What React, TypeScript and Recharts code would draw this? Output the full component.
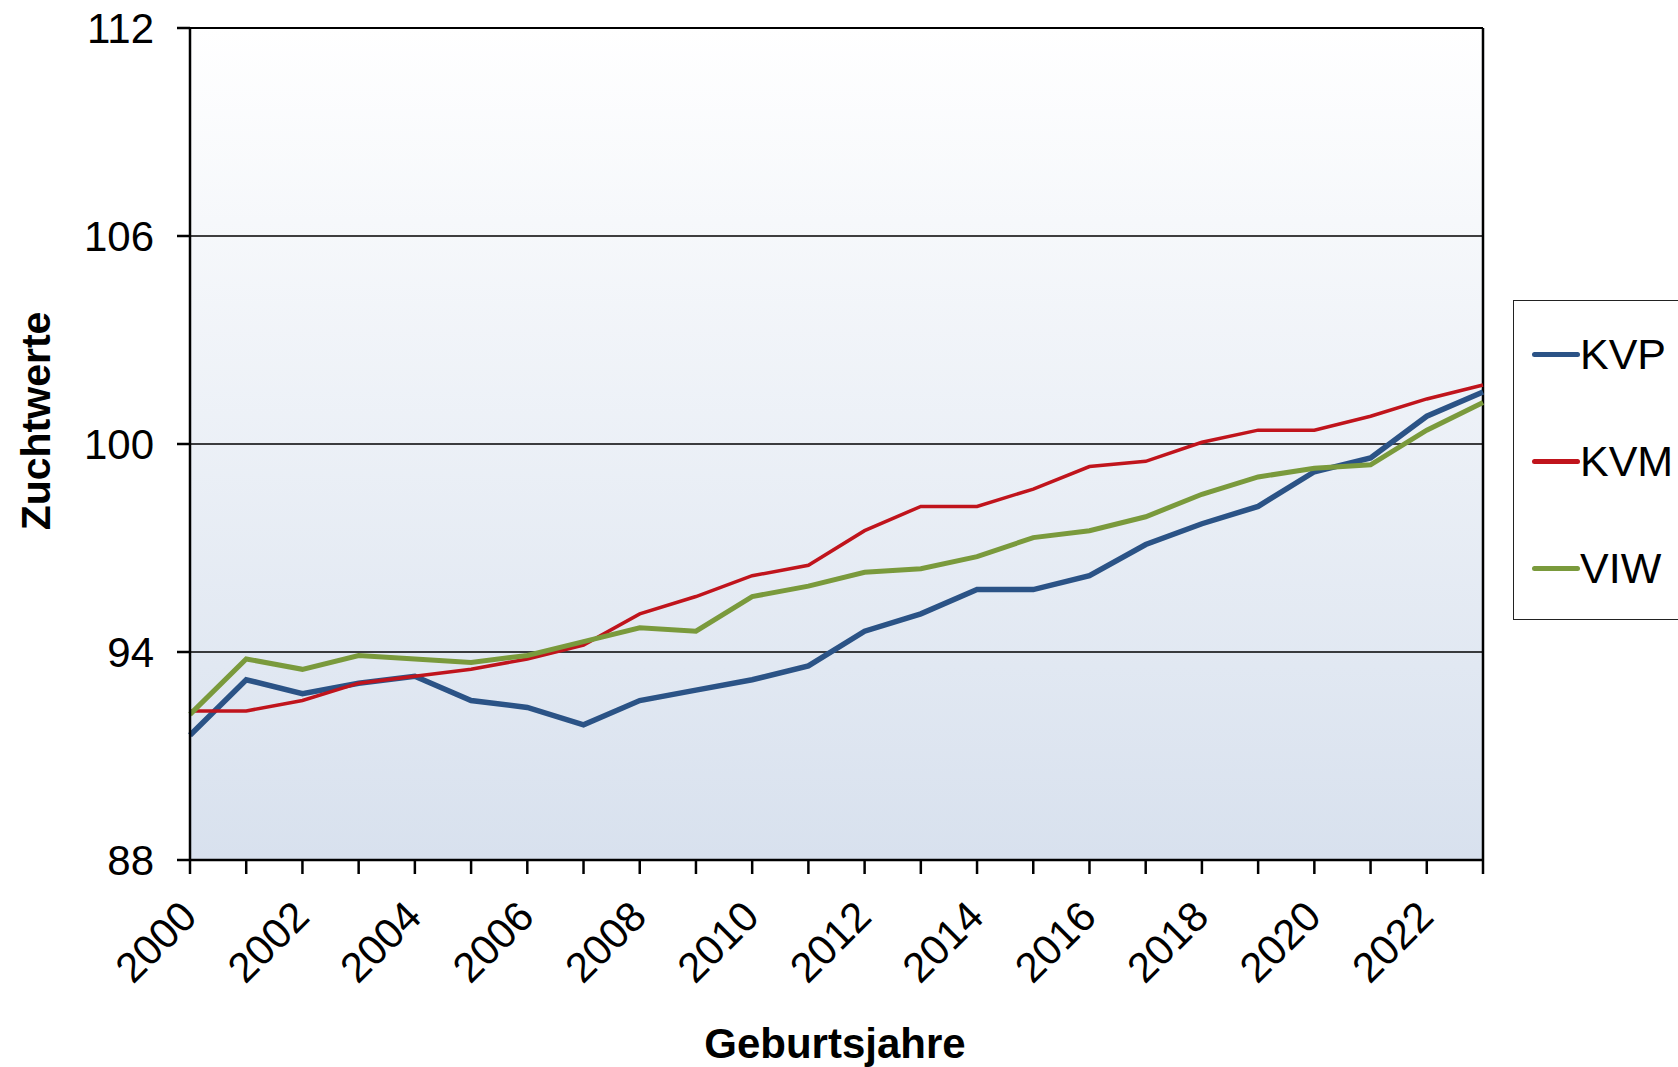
import React from 'react';
import {
  LineChart,
  Line,
  XAxis,
  YAxis,
  CartesianGrid,
  ReferenceLine,
} from 'recharts';

const years = [
  2000, 2001, 2002, 2003, 2004, 2005, 2006, 2007, 2008, 2009, 2010, 2011,
  2012, 2013, 2014, 2015, 2016, 2017, 2018, 2019, 2020, 2021, 2022, 2023,
];
const kvp = [
  91.6, 93.2, 92.8, 93.1, 93.3, 92.6, 92.4, 91.9, 92.6, 92.9, 93.2, 93.6,
  94.6, 95.1, 95.8, 95.8, 96.2, 97.1, 97.7, 98.2, 99.2, 99.6, 100.8, 101.5,
];
const kvm = [
  92.3, 92.3, 92.6, 93.1, 93.3, 93.5, 93.8, 94.2, 95.1, 95.6, 96.2, 96.5,
  97.5, 98.2, 98.2, 98.7, 99.35, 99.5, 100.05, 100.4, 100.4, 100.8, 101.3, 101.7,
];
const viw = [
  92.2, 93.8, 93.5, 93.9, 93.8, 93.7, 93.9, 94.3, 94.7, 94.6, 95.6, 95.9,
  96.3, 96.4, 96.75, 97.3, 97.5, 97.9, 98.55, 99.05, 99.3, 99.4, 100.4, 101.2,
];
const yTicks = [88, 94, 100, 106, 112];
const seriesNames = ['KVP', 'KVM', 'VIW'];

const colors = { KVP: '#2B5386', KVM: '#C0141C', VIW: '#7A9A3C' };
const font = '"Liberation Sans", Arial, sans-serif';

const data = years.map((y, i) => ({ year: y, KVP: kvp[i], KVM: kvm[i], VIW: viw[i] }));

const YearTick = (props: any) => {
  const { x, y, payload } = props;
  if (payload.value % 2 !== 0) return null;
  const tx = x + 9;
  const ty = y + 45;
  return (
    <text
      x={tx}
      y={ty}
      textAnchor="end"
      fontSize={42}
      fontFamily={font}
      fill="#000"
      transform={`rotate(-45, ${tx}, ${ty})`}
    >
      {payload.value}
    </text>
  );
};

export default function App() {
  return (
    <div style={{ position: 'absolute', left: 0, top: 0, width: 1678, height: 1067, background: '#fff' }}>
      <LineChart
        width={1678}
        height={1067}
        data={data}
        margin={{ top: 28, right: 195, left: 0, bottom: 0 }}
      >
        <defs>
          <linearGradient id="plotBg" x1="0" y1="0" x2="0" y2="1">
            <stop offset="0%" stopColor="#FFFFFF" />
            <stop offset="100%" stopColor="#D8E1EE" />
          </linearGradient>
        </defs>
        <CartesianGrid vertical={false} stroke="#000" strokeWidth={1.5} fill="url(#plotBg)" fillOpacity={1} />
        <XAxis
          dataKey="year"
          type="number"
          domain={[2000, 2023]}
          ticks={years}
          interval={0}
          height={207}
          tickSize={14}
          tickMargin={0}
          stroke="#000"
          strokeWidth={2.5}
          tick={<YearTick />}
          label={{
            content: () => (
              <text x={835} y={1058} textAnchor="middle" fontSize={42} fontWeight="bold" fontFamily={font} fill="#000">
                Geburtsjahre
              </text>
            ),
          }}
        />
        <YAxis
          type="number"
          domain={[88, 112]}
          ticks={yTicks}
          interval={0}
          width={190}
          tickSize={13}
          tickMargin={23}
          stroke="#000"
          strokeWidth={2.5}
          tick={{ fontSize: 42, fill: '#000', fontFamily: font }}
          label={{
            content: () => (
              <text
                x={50}
                y={421}
                textAnchor="middle"
                fontSize={41}
                fontWeight="bold"
                fontFamily={font}
                fill="#000"
                transform="rotate(-90, 50, 421)"
              >
                Zuchtwerte
              </text>
            ),
          }}
        />
        <ReferenceLine x={2023} stroke="#000" strokeWidth={2.5} />
        <ReferenceLine y={112} stroke="#000" strokeWidth={2} />
        <Line type="linear" dataKey="KVP" stroke={colors.KVP} strokeWidth={5.5} dot={false} isAnimationActive={false} />
        <Line type="linear" dataKey="KVM" stroke={colors.KVM} strokeWidth={3.5} dot={false} isAnimationActive={false} />
        <Line type="linear" dataKey="VIW" stroke={colors.VIW} strokeWidth={5} dot={false} isAnimationActive={false} />
      </LineChart>
      <div
        style={{
          position: 'absolute',
          left: 1513,
          top: 300,
          width: 180,
          height: 320,
          border: '1.5px solid #222',
          background: '#fff',
          boxSizing: 'border-box',
          fontFamily: font,
        }}
      >
        {seriesNames.map((name, i) => (
          <div
            key={name}
            style={{
              position: 'absolute',
              left: 18,
              top: 53 + i * 107 - 25,
              height: 50,
              display: 'flex',
              alignItems: 'center',
            }}
          >
            <div
              style={{
                width: 48,
                height: 5,
                borderRadius: 3,
                background: colors[name as keyof typeof colors],
              }}
            />
            <span style={{ fontSize: 43, color: '#000', lineHeight: '50px' }}>{name}</span>
          </div>
        ))}
      </div>
    </div>
  );
}
